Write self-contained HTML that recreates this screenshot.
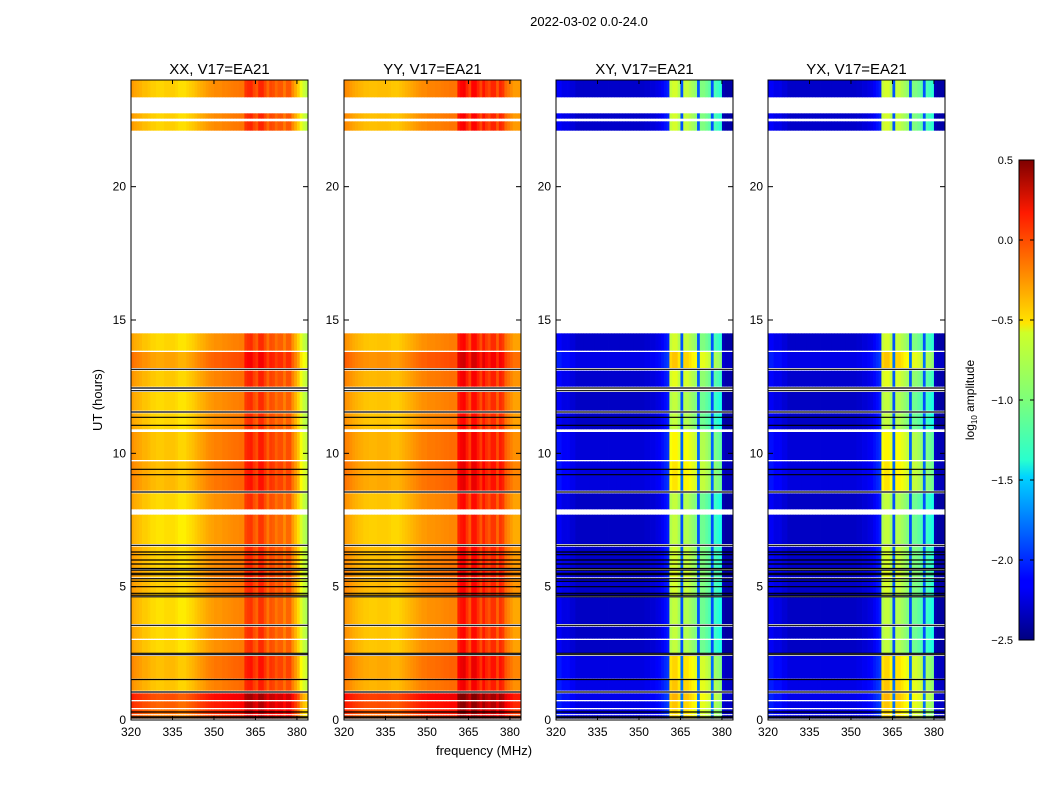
<!DOCTYPE html>
<html><head><meta charset="utf-8"><style>
body{margin:0;background:#fff;font-family:"Liberation Sans",sans-serif}
svg text{font-family:"Liberation Sans",sans-serif}
</style></head><body>
<svg id="fig" width="1050" height="800" xmlns="http://www.w3.org/2000/svg">
<rect width="1050" height="800" fill="#fff"/>
<text x="589" y="26" font-size="13" text-anchor="middle">2022-03-02 0.0-24.0</text>
<text x="484" y="755" font-size="13" text-anchor="middle">frequency (MHz)</text>
<text transform="translate(102,400) rotate(-90)" font-size="13" text-anchor="middle">UT (hours)</text>
<g id="panels"></g>
<defs><linearGradient id="jet" x1="0" y1="1" x2="0" y2="0">
<stop offset="0" stop-color="#00007f"/><stop offset="0.11" stop-color="#0000ff"/><stop offset="0.125" stop-color="#0000ff"/>
<stop offset="0.34" stop-color="#00d4ff"/><stop offset="0.375" stop-color="#29ffce"/><stop offset="0.5" stop-color="#7dff7a"/>
<stop offset="0.64" stop-color="#ceff29"/><stop offset="0.66" stop-color="#ffe500"/><stop offset="0.89" stop-color="#ff1a00"/><stop offset="1" stop-color="#7f0000"/>
</linearGradient></defs>
<rect x="1019" y="160" width="15" height="480" fill="url(#jet)" stroke="#000"/>
<text transform="translate(974,400) rotate(-90)" font-size="12" text-anchor="middle">log<tspan font-size="8" dy="3">10</tspan><tspan dy="-3"> amplitude</tspan></text>
<g id="cbticks"></g>
</svg>
<script>
// frequency channels: 1 MHz bins, 320..383
const freqs = [320,321,322,323,324,325,326,327,328,329,330,331,332,333,334,335,336,337,338,339,340,341,342,343,344,345,346,347,348,349,350,351,352,353,354,355,356,357,358,359,360,361,362,363,364,365,366,367,368,369,370,371,372,373,374,375,376,377,378,379,380,381,382,383];
const profXX = [-0.35,-0.38,-0.4,-0.42,-0.45,-0.45,-0.47,-0.5,-0.5,-0.52,-0.52,-0.52,-0.5,-0.5,-0.5,-0.5,-0.52,-0.55,-0.55,-0.55,-0.52,-0.5,-0.48,-0.45,-0.42,-0.4,-0.38,-0.35,-0.33,-0.32,-0.3,-0.3,-0.3,-0.28,-0.28,-0.27,-0.26,-0.25,-0.25,-0.24,-0.24,-0.05,-0.02,0.0,-0.1,-0.15,0.0,0.0,-0.1,-0.2,-0.1,-0.12,-0.2,-0.15,-0.15,-0.25,-0.15,-0.15,-0.3,-0.4,-0.5,-0.7,-0.8,-0.85];
const profYY = [-0.3,-0.32,-0.35,-0.38,-0.4,-0.42,-0.43,-0.45,-0.45,-0.46,-0.46,-0.46,-0.45,-0.45,-0.45,-0.45,-0.46,-0.48,-0.48,-0.48,-0.46,-0.44,-0.42,-0.4,-0.38,-0.36,-0.34,-0.32,-0.3,-0.3,-0.28,-0.28,-0.28,-0.27,-0.27,-0.26,-0.25,-0.25,-0.24,-0.24,-0.24,0.05,0.1,0.12,0.0,-0.1,0.1,0.1,0.0,-0.1,0.05,-0.05,-0.1,0.0,0.0,-0.15,0.0,-0.05,-0.2,-0.25,-0.3,-0.35,-0.35,-0.35];
const profXY = [-2.15,-2.15,-2.2,-2.2,-2.2,-2.25,-2.25,-2.3,-2.3,-2.3,-2.3,-2.3,-2.3,-2.3,-2.3,-2.3,-2.3,-2.3,-2.3,-2.3,-2.3,-2.3,-2.3,-2.3,-2.3,-2.3,-2.3,-2.3,-2.3,-2.3,-2.3,-2.3,-2.28,-2.28,-2.25,-2.25,-2.22,-2.2,-2.15,-2.1,-2.05,-0.85,-0.8,-0.8,-0.9,-1.9,-0.85,-0.85,-0.9,-0.95,-1.0,-1.9,-1.05,-1.05,-1.1,-1.15,-1.9,-1.2,-1.25,-1.3,-2.35,-2.4,-2.4,-2.4];
const profYX = [-2.15,-2.15,-2.2,-2.2,-2.2,-2.25,-2.25,-2.3,-2.3,-2.3,-2.3,-2.3,-2.3,-2.3,-2.3,-2.3,-2.3,-2.3,-2.3,-2.3,-2.3,-2.3,-2.3,-2.3,-2.3,-2.3,-2.3,-2.3,-2.3,-2.3,-2.3,-2.3,-2.28,-2.28,-2.25,-2.25,-2.22,-2.2,-2.15,-2.1,-2.05,-0.85,-0.8,-0.8,-0.9,-1.9,-0.85,-0.85,-0.9,-0.95,-1.0,-1.9,-1.05,-1.05,-1.1,-1.15,-1.9,-1.2,-1.25,-1.3,-2.35,-2.4,-2.4,-2.4];
// time segments: start hour, end hour, amplitude offsets (parallel-hand, cross-hand)
const segStart = [0.05,0.22,0.45,0.75,1.1,1.55,2.5,3.05,3.6,4.65,5.35,5.7,6.6,7.9,8.6,9.75,10.9,11.6,12.5,13.2,13.85,22.1,22.55,23.35];
const segEnd   = [0.18,0.4,0.7,1.0,1.5,2.4,3.0,3.5,4.6,5.3,5.6,6.5,7.7,8.5,9.7,10.8,11.5,12.3,13.1,13.8,14.5,22.45,22.75,24.0];
const segOffPar = [0.25,0.3,0.35,0.4,0.05,0.08,0.0,0.0,-0.02,0.03,0.05,0.02,-0.03,0.0,0.08,0.05,0.0,0.0,0.04,0.15,0.0,0.02,0.02,0.02];
const segOffX   = [0.3,0.3,0.35,0.4,0.35,0.3,0.0,0.0,0.0,0.05,0.1,0.05,0.0,0.0,0.25,0.2,0.0,0.0,0.1,0.35,0.05,0.05,0.05,0.05];
// flagged (black) lines in hours
const blackLines = [0.08,0.12,0.3,1.05,1.52,2.45,2.5,3.55,4.62,4.68,4.75,5.0,5.2,5.3,5.45,5.5,5.62,5.68,5.85,6.0,6.2,6.3,6.55,8.55,9.2,9.4,11.05,11.35,11.55,12.35,12.45,13.15];
const xTicks = [320,335,350,365,380];
const yTicks = [0,5,10,15,20];
const cbTicks = [-2.5,-2.0,-1.5,-1.0,-0.5,0.0,0.5];
const titles = ["XX, V17=EA21","YY, V17=EA21","XY, V17=EA21","YX, V17=EA21"];
const profiles = [profXX,profYY,profXY,profYX];
const isCross = [false,false,true,true];
const panelX = [131,344,556,768];
const PW=177, PY=80, PH=640, VMIN=-2.5, VMAX=0.5;
const NS="http://www.w3.org/2000/svg";
function jet(v){
  let t=Math.max(0,Math.min(1,(v-VMIN)/(VMAX-VMIN)));
  const f=x=>Math.max(0,Math.min(1,x));
  const r=f(1.5-Math.abs(4*t-3)), g=f(1.5-Math.abs(4*t-2)), b=f(1.5-Math.abs(4*t-1));
  return `rgb(${Math.round(r*255)},${Math.round(g*255)},${Math.round(b*255)})`;
}
function el(tag,attrs,parent){const e=document.createElementNS(NS,tag);for(const k in attrs)e.setAttribute(k,attrs[k]);parent.appendChild(e);return e;}
const root=document.getElementById('panels');
profiles.forEach((prof,p)=>{
  const x0=panelX[p];
  const xs=f=>x0+(f-320)/(384-320)*PW;
  const ys=h=>PY+PH-(h/24)*PH;
  const g=el('g',{},root);
  
  
  segStart.forEach((s,i)=>{
    freqs.forEach((f,j)=>{
      let v=prof[j];
      if(isCross[p]){ v += (v>-1.5?segOffX[i]:segOffX[i]*0.3); } else { v += segOffPar[i]; }
      const r=el('rect',{x:xs(f),y:ys(segEnd[i]),width:xs(f+1)-xs(f)+0.4,height:ys(s)-ys(segEnd[i]),fill:jet(v)},g);
      
      
    });
  });
  blackLines.forEach(h=>{
    const l=el('line',{x1:x0,x2:x0+PW,y1:ys(h),y2:ys(h),stroke:'#000','stroke-width':1.2},g);
    
    
  });
  const fr=el('rect',{x:x0,y:PY,width:PW,height:PH,fill:'none',stroke:'#000','stroke-width':1},g);
  
  
  const t=el('text',{x:x0+PW/2,y:74,'font-size':15,'text-anchor':'middle'},g);t.textContent=titles[p];
  
  
  xTicks.forEach(v=>{
    const x=xs(v);
    el('line',{x1:x,x2:x,y1:PY+PH,y2:PY+PH-4,stroke:'#000'},g);
    el('line',{x1:x,x2:x,y1:PY,y2:PY+4,stroke:'#000'},g);
    const tx=el('text',{x:x,y:PY+PH+16,'font-size':12,'text-anchor':'middle'},g);tx.textContent=v;
    
    
  });
  yTicks.forEach(v=>{
    const y=ys(v);
    el('line',{x1:x0,x2:x0+5,y1:y,y2:y,stroke:'#000'},g);
    el('line',{x1:x0+PW,x2:x0+PW-5,y1:y,y2:y,stroke:'#000'},g);
    const ty=el('text',{x:x0-5,y:y+4,'font-size':12,'text-anchor':'end'},g);ty.textContent=v;
    
    
  });
});
const cb=document.getElementById('cbticks');
cbTicks.forEach(v=>{
  const y=640-(v-VMIN)/(VMAX-VMIN)*480;
  el('line',{x1:1019,x2:1023,y1:y,y2:y,stroke:'#000'},cb);
  el('line',{x1:1034,x2:1030,y1:y,y2:y,stroke:'#000'},cb);
  const t=el('text',{x:1013,y:y+4,'font-size':11,'text-anchor':'end'},cb);t.textContent=(v<0?'\u2212':'')+Math.abs(v).toFixed(1);
  
  
});
</script>
</body></html>
